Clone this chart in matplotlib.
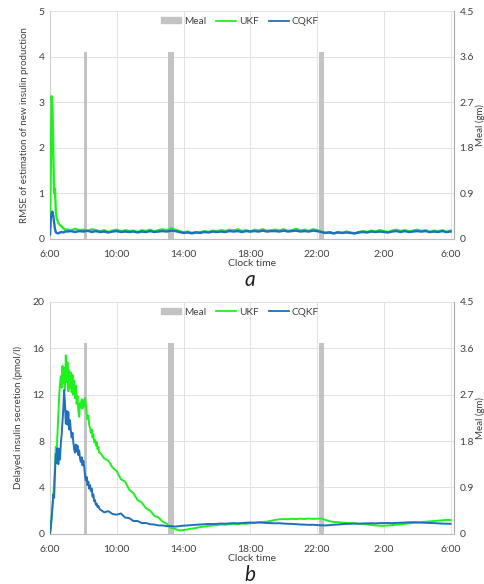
import numpy as np
import matplotlib
matplotlib.use('Agg')
import matplotlib.pyplot as plt
from matplotlib.patches import Patch
from matplotlib.lines import Line2D

plt.rcParams['font.family'] = ['Lato', 'DejaVu Sans']

# hours after 6:00
t_a_early = [0, 0.05, 0.1, 0.15, 0.2, 0.25, 0.3, 0.35, 0.4, 0.5, 0.6, 0.7, 0.8, 0.9]
t_a_late = np.arange(1.0, 24.01, 0.25)
t_a = np.concatenate([t_a_early, t_a_late])

ukf_a = [0.1, 1.6, 3.13, 2.9, 1.9, 1.0, 1.1, 0.6, 0.45, 0.35, 0.3, 0.27, 0.23, 0.2,
         0.21, 0.18, 0.22, 0.19, 0.20, 0.17, 0.21, 0.19,
         0.16, 0.19, 0.15, 0.18, 0.20, 0.16, 0.19, 0.17,
         0.18, 0.15, 0.19, 0.17, 0.20, 0.16, 0.19, 0.21,
         0.18, 0.23, 0.20, 0.17, 0.14, 0.16, 0.13, 0.15,
         0.14, 0.17, 0.15, 0.18, 0.16, 0.19, 0.17, 0.20,
         0.18, 0.21, 0.17, 0.19, 0.16, 0.20, 0.18, 0.21,
         0.17, 0.19, 0.20, 0.18, 0.21, 0.17, 0.19, 0.22,
         0.18, 0.20, 0.17, 0.21, 0.19, 0.16, 0.13, 0.15,
         0.12, 0.15, 0.13, 0.16, 0.14, 0.12, 0.15, 0.17,
         0.15, 0.18, 0.16, 0.19, 0.17, 0.15, 0.18, 0.20,
         0.17, 0.19, 0.16, 0.18, 0.20, 0.17, 0.19, 0.15,
         0.18, 0.16, 0.19, 0.15, 0.18]

cqkf_a = [0.1, 0.45, 0.56, 0.6, 0.5, 0.35, 0.22, 0.15, 0.13, 0.12, 0.14, 0.15, 0.14, 0.16,
          0.16, 0.17, 0.15, 0.17, 0.16, 0.18, 0.15, 0.17,
          0.15, 0.16, 0.14, 0.16, 0.17, 0.15, 0.16, 0.15,
          0.16, 0.14, 0.16, 0.15, 0.17, 0.15, 0.16, 0.17,
          0.16, 0.18, 0.17, 0.15, 0.13, 0.14, 0.12, 0.14,
          0.13, 0.15, 0.14, 0.16, 0.15, 0.16, 0.15, 0.17,
          0.16, 0.17, 0.15, 0.17, 0.16, 0.17, 0.16, 0.18,
          0.16, 0.17, 0.17, 0.16, 0.18, 0.16, 0.17, 0.18,
          0.16, 0.17, 0.16, 0.18, 0.17, 0.15, 0.13, 0.14,
          0.12, 0.14, 0.13, 0.14, 0.13, 0.12, 0.14, 0.15,
          0.14, 0.16, 0.15, 0.16, 0.15, 0.14, 0.16, 0.17,
          0.15, 0.17, 0.15, 0.16, 0.17, 0.16, 0.17, 0.15,
          0.16, 0.15, 0.17, 0.15, 0.16]

t_b_early = np.arange(0, 2.96, 0.05)
t_b_late = np.arange(3.0, 24.01, 0.25)
t_b = np.concatenate([t_b_early, t_b_late])

ukf_b = [0.0, 0.6, 1.5, 2.4, 3.2, 4.5, 5.8, 7.5, 7.2, 8.6,
         10.2, 11.8, 12.9, 13.6, 12.6, 14.5, 13.0, 14.3, 12.4, 15.4,
         13.1, 14.8, 12.3, 14.1, 12.6, 13.9, 12.2, 13.7, 12.0, 13.2,
         11.7, 12.8, 11.2, 11.9, 10.6, 10.1, 11.3, 10.9, 11.6, 10.8,
         11.5, 11.0, 11.7, 11.1, 10.4, 9.9, 10.2, 9.4, 9.1, 8.7,
         9.0, 8.3, 8.6, 7.9, 8.1, 7.6, 7.9, 7.3, 7.5, 7.0,
         7.0, 6.5, 6.3, 5.7, 5.4, 4.7, 4.5, 3.8, 3.5, 2.9,
         2.7, 2.2, 2.0, 1.55, 1.4, 1.05, 0.85, 0.5, 0.42, 0.28,
         0.32, 0.38, 0.45, 0.5, 0.58, 0.62, 0.68, 0.72, 0.75, 0.8,
         0.78, 0.83, 0.85, 0.82, 0.88, 0.86, 0.9, 0.95, 0.98, 1.02,
         1.05, 1.12, 1.2, 1.25, 1.27, 1.25, 1.29, 1.27, 1.3, 1.28,
         1.31, 1.29, 1.3, 1.32, 1.2, 1.08, 1.02, 1.0, 0.96, 0.94,
         0.92, 0.9, 0.87, 0.85, 0.8, 0.76, 0.72, 0.7, 0.69, 0.72,
         0.75, 0.78, 0.82, 0.86, 0.9, 0.93, 0.97, 1.0, 1.04, 1.07,
         1.1, 1.13, 1.16, 1.2, 1.18]

cqkf_b = [0.0, 0.5, 1.4, 2.3, 3.4, 3.1, 5.2, 6.9, 6.1, 7.4,
          6.0, 7.3, 6.4, 7.8, 8.5, 9.6, 10.8, 12.4, 11.2, 9.5,
          10.6, 9.4, 10.5, 9.0, 9.8, 8.9, 8.3, 8.7, 7.9, 7.3,
          7.0, 7.7, 7.1, 7.6, 6.8, 7.2, 6.5, 6.2, 6.6, 5.9,
          6.3, 5.8, 5.0, 4.6, 4.9, 4.2, 4.5, 3.9, 4.2, 3.7,
          3.9, 3.2, 3.4, 2.8, 2.9, 2.5, 2.6, 2.3, 2.4, 2.2,
          2.1, 1.85, 1.95, 1.7, 1.65, 1.75, 1.4, 1.35, 1.1, 1.1,
          0.92, 0.93, 0.82, 0.8, 0.72, 0.72, 0.65, 0.67, 0.62, 0.66,
          0.7, 0.72, 0.75, 0.78, 0.8, 0.82, 0.85, 0.84, 0.86, 0.88,
          0.87, 0.9, 0.92, 0.9, 0.93, 0.95, 0.97, 0.96, 0.98, 0.95,
          0.93, 0.92, 0.9, 0.91, 0.88, 0.86, 0.85, 0.83, 0.8, 0.79,
          0.77, 0.78, 0.75, 0.73, 0.72, 0.74, 0.78, 0.8, 0.83, 0.85,
          0.86, 0.88, 0.87, 0.89, 0.9, 0.91, 0.9, 0.92, 0.92, 0.93,
          0.91, 0.94, 0.95, 0.97, 0.99, 1.0, 0.98, 0.96, 0.95, 0.93,
          0.92, 0.9, 0.88, 0.87, 0.86]

# meals: start (h after 6:00), duration (h), amount (gm)
meal_start = [2.02, 7.1, 16.1]
meal_dur = [0.17, 0.33, 0.33]
meal_amt = [3.7, 3.7, 3.7]

xticks = [0, 4, 8, 12, 16, 20, 24]
xticklabels = ['6:00', '10:00', '14:00', '18:00', '22:00', '2:00', '6:00']
meal_ticks = [0, 0.9, 1.8, 2.7, 3.6, 4.5]

GREEN = '#1df21d'
BLUE = '#1f6fbf'
GREY = '#c3c3c3'
TXT = '#404040'

fig = plt.figure(figsize=(4.85, 5.84), dpi=100)


def panel(rect, t, ukf, cqkf, ymax, ystep, ylabel, tag, tag_y, lw):
    ax2 = fig.add_axes(rect)
    ax = ax2.twinx()
    # keep the curves on top of the meal bars
    ax2.yaxis.tick_right()
    ax2.yaxis.set_label_position('right')
    ax.yaxis.tick_left()
    ax.yaxis.set_label_position('left')

    ax2.bar(meal_start, meal_amt, width=meal_dur, align='edge', color=GREY, zorder=2)
    ax2.set_ylim(0, 4.5)
    ax2.set_yticks(meal_ticks)
    ax2.set_yticklabels(['0', '0.9', '1.8', '2.7', '3.6', '4.5'])
    ax2.set_ylabel('Meal (gm)', fontsize=7, color=TXT, labelpad=1)
    ax2.grid(True, color='#e2e2e2', linewidth=0.7, zorder=0)
    ax2.set_axisbelow(True)

    ax.plot(t, ukf, color=GREEN, linewidth=lw, zorder=3)
    ax.plot(t, cqkf, color=BLUE, linewidth=lw, zorder=4)
    ax.set_ylim(0, ymax)
    ax.set_yticks(np.arange(0, ymax + 0.1, ystep))
    ax.set_ylabel(ylabel, fontsize=7, color=TXT, labelpad=7)

    for a in (ax, ax2):
        a.set_xlim(0, 24.2)
        a.tick_params(axis='both', length=0, labelsize=7.5, colors=TXT, pad=4)
        a.spines['top'].set_visible(False)
    ax2.tick_params(axis='x', pad=8)
    ax2.set_xticks(xticks)
    ax2.set_xticklabels(xticklabels)
    ax.spines['left'].set_color('#d0d0d0')
    ax.spines['right'].set_color('#a8a8a8')
    ax.spines['bottom'].set_color('#bcbcbc')
    ax2.spines['left'].set_visible(False)
    ax2.spines['right'].set_visible(False)
    ax2.spines['bottom'].set_visible(False)
    ax2.set_xlabel('Clock time', fontsize=7.5, color=TXT, labelpad=0)

    handles = [Patch(color=GREY), Line2D([], [], color=GREEN, lw=1.3),
               Line2D([], [], color=BLUE, lw=1.3)]
    ax.legend(handles, ['Meal', 'UKF', 'CQKF'], loc='upper center',
              bbox_to_anchor=(0.47, 1.015), ncol=3, frameon=False, fontsize=7.3,
              handlelength=2.0, handleheight=0.5, columnspacing=1.0, handletextpad=0.25,
              labelcolor=TXT)
    fig.text(0.515, tag_y, tag, fontsize=15, style='italic', ha='center', va='center',
             color='#202020')


panel([0.103, 0.591, 0.833, 0.39], t_a, ukf_a, cqkf_a, 5, 1,
      'RMSE of estimation of new insulin production', 'a', 0.52, 1.7)
panel([0.103, 0.086, 0.833, 0.397], t_b, ukf_b, cqkf_b, 20, 4,
      'Delayed insulin secretion (pmol/l)', 'b', 0.016, 1.4)

fig.savefig('out.png', dpi=100)
